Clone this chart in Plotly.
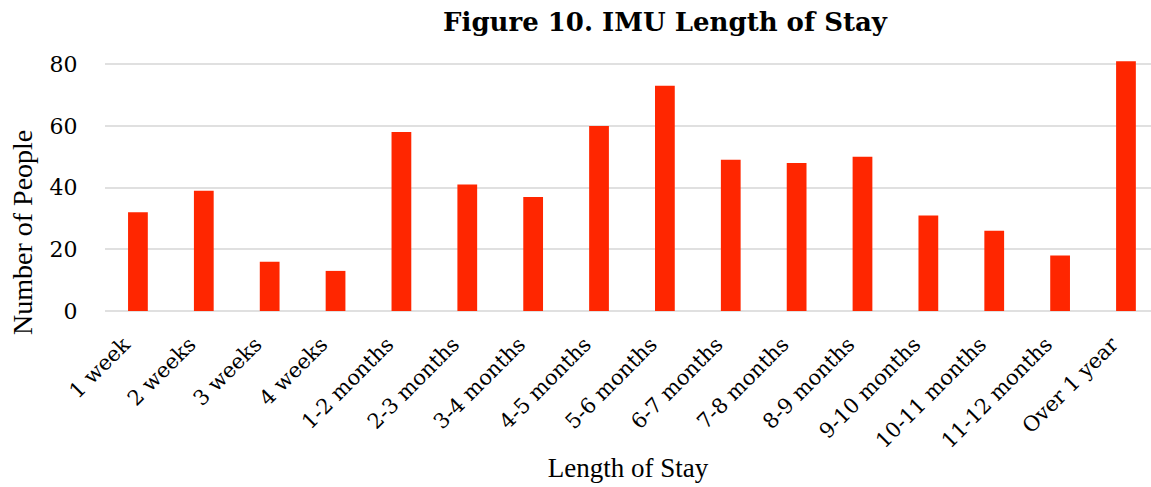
import plotly.graph_objects as go

# Length-of-stay buckets and head counts
stay_lengths = [
    "1 week", "2 weeks", "3 weeks", "4 weeks",
    "1-2 months", "2-3 months", "3-4 months", "4-5 months",
    "5-6 months", "6-7 months", "7-8 months", "8-9 months",
    "9-10 months", "10-11 months", "11-12 months", "Over 1 year",
]
people = [32, 39, 16, 13, 58, 41, 37, 60, 73, 49, 48, 50, 31, 26, 18, 81]
y_ticks = [0, 20, 40, 60, 80]

tick_font = "Georgia, DejaVu Serif, serif"
text_font = "Georgia, Liberation Serif, serif"

fig = go.Figure(
    go.Bar(
        x=stay_lengths,
        y=people,
        width=0.3,
        marker=dict(color="#ff2600", line=dict(width=0)),
    )
)

fig.update_layout(
    width=1151,
    height=487,
    margin=dict(l=105, r=0, t=55, b=176),
    plot_bgcolor="white",
    paper_bgcolor="white",
    showlegend=False,
    title=dict(
        text="<b>Figure 10. IMU Length of Stay</b>",
        x=665 / 1151,
        xref="container",
        xanchor="center",
        y=1 - 22 / 487,
        yref="container",
        yanchor="middle",
        font=dict(family=tick_font, size=26, color="black"),
    ),
    bargap=0.7,
)

# Y-axis title placed as a rotated annotation, centred low beside the axis
fig.add_annotation(
    text="Number of People",
    textangle=-90,
    xref="paper",
    yref="paper",
    x=(22 - 105) / 1046,
    y=(311 - 233) / 256,
    xanchor="center",
    yanchor="middle",
    showarrow=False,
    font=dict(family=text_font, size=28, color="black"),
)

fig.update_xaxes(
    type="category",
    range=[-0.5, 15.38],
    tickangle=-45,
    tickfont=dict(family=tick_font, size=21, color="black"),
    ticklabelstandoff=16,
    ticklabelshift=-14,
    ticks="",
    showgrid=False,
    showline=False,
    title=dict(text="Length of Stay", font=dict(family=text_font, size=27, color="black"), standoff=6),
)

fig.update_yaxes(
    range=[0, 83],
    tickvals=y_ticks,
    tickfont=dict(family=tick_font, size=22, color="black"),
    ticks="outside",
    ticklen=22,
    tickcolor="white",
    showgrid=True,
    gridcolor="#e0e0e0",
    gridwidth=2,
    zeroline=True,
    zerolinecolor="#e0e0e0",
    zerolinewidth=2,
    showline=False,
)

fig.write_html("out.html")
